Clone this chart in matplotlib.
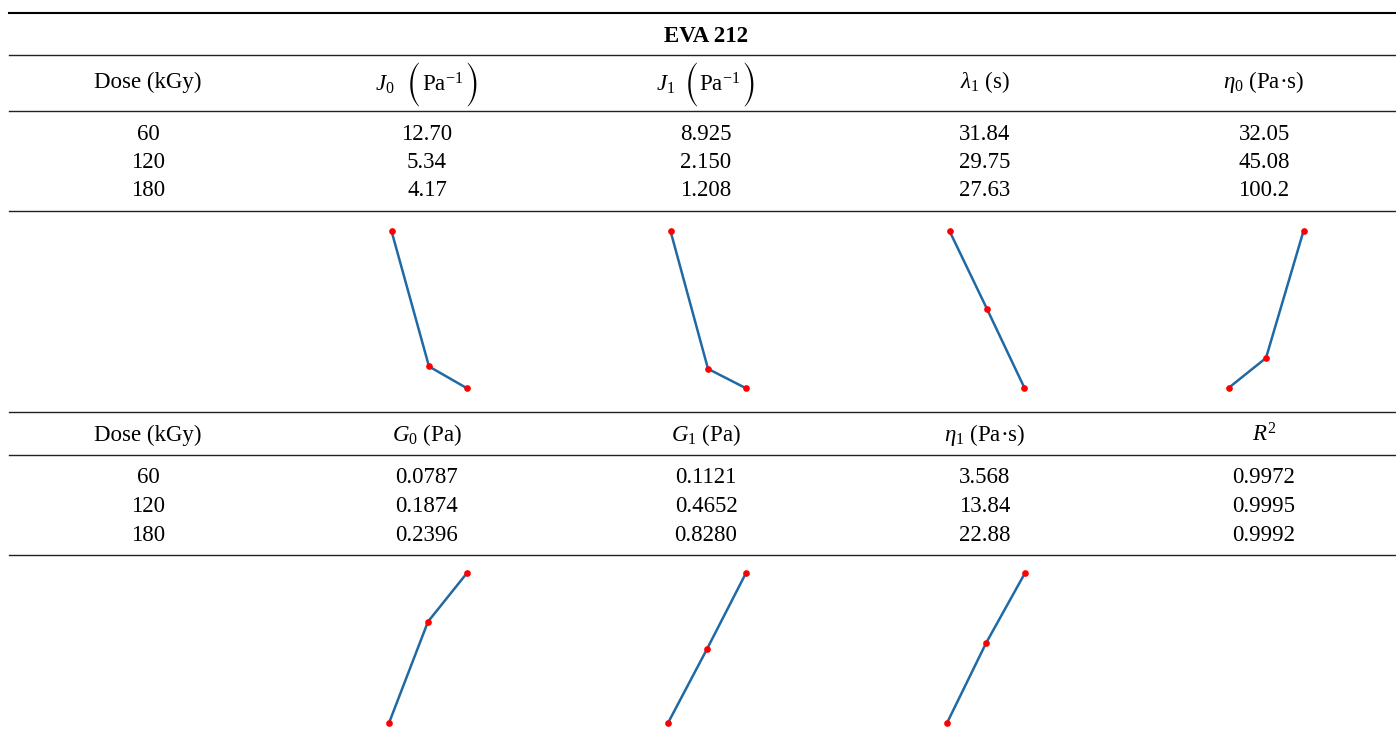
import matplotlib.pyplot as plt

plt.rcParams['font.family'] = ['Liberation Serif', 'DejaVu Serif']
plt.rcParams['mathtext.fontset'] = 'custom'
plt.rcParams['mathtext.rm'] = 'Liberation Serif'
plt.rcParams['mathtext.it'] = 'Liberation Serif:italic'
plt.rcParams['mathtext.bf'] = 'Liberation Serif:bold'

# TABLE DATA
title = 'EVA 212'
doses = [60, 120, 180]

# J headers are built from pieces: symbol, big "(", unit, big ")"
j_syms = [r'$J_0$', r'$J_1$']
j_unit = r'$\mathrm{Pa}^{-1}$'
head1_rest = [r'$\lambda_1$ (s)', r'$\eta_0$ (Pa·s)']
J0 = [12.70, 5.34, 4.17]
J1 = [8.925, 2.150, 1.208]
lam1 = [31.84, 29.75, 27.63]
eta0 = [32.05, 45.08, 100.2]

head2 = ['Dose (kGy)', r'$G_0$ (Pa)', r'$G_1$ (Pa)', r'$\eta_1$ (Pa·s)', r'$R^2$']
G0 = [0.0787, 0.1874, 0.2396]
G1 = [0.1121, 0.4652, 0.8280]
eta1 = [3.568, 13.84, 22.88]
R2 = [0.9972, 0.9995, 0.9992]

# LAYOUT (pixels)
W, H = 1396, 740
fs = 16.5
cols = [148 + 279 * i for i in range(5)]
x_left, x_right = 9, 1396

fig = plt.figure(figsize=(W / 100, H / 100), dpi=100)
ax = fig.add_axes([0, 0, 1, 1])
ax.set_xlim(0, W)
ax.set_ylim(H, 0)
ax.axis('off')
rend = fig.canvas.get_renderer()

# horizontal rules
ax.plot([x_left, x_right], [12.7, 12.7], color='black', lw=1.5)
for y in [55, 111, 211, 412, 455, 555]:
    ax.plot([x_left, x_right], [y, y], color='#222222', lw=1.0)

ax.text((x_left + x_right) / 2 + 4, 42, title, ha='center', va='baseline',
        fontsize=fs, fontweight='bold')


def width(t):
    return t.get_window_extent(rend).width


def j_header(cx, sym, gap, y=91):
    # lay the pieces out left to right, then shift so the group is centred
    parts = [ax.text(0, y, sym, ha='left', va='baseline', fontsize=fs),
             ax.text(0, 85, '(', ha='left', va='center', fontsize=17,
                     family='STIXSizeTwoSym'),
             ax.text(0, y, j_unit, ha='left', va='baseline', fontsize=fs),
             ax.text(0, 85, ')', ha='left', va='center', fontsize=17,
                     family='STIXSizeTwoSym')]
    gaps = [gap, 1, 1, 0]
    ws = [width(p) for p in parts]
    total = sum(ws) + sum(gaps[:-1])
    x = cx - total / 2
    for p, w, g in zip(parts, ws, gaps):
        p.set_x(x)
        x += w + g


def block(heads, columns, fmts, head_y, row_y):
    for cx, h in zip(cols, heads):
        if h is not None:
            ax.text(cx, head_y, h, ha='center', va='baseline', fontsize=fs)
    for ry, d in zip(row_y, doses):
        ax.text(cols[0], ry, str(d), ha='center', va='baseline', fontsize=fs)
    for cx, vals, f in zip(cols[1:], columns, fmts):
        for ry, v in zip(row_y, vals):
            ax.text(cx, ry, format(v, f), ha='center', va='baseline', fontsize=fs)


def spark(cx, y0, y1, vals, w=75):
    sa = fig.add_axes([(cx - w / 2) / W, 1 - y1 / H, w / W, (y1 - y0) / H])
    sa.plot(doses, vals, color='#1f6aa5', lw=1.8, marker='o', ms=3.8,
            mfc='red', mec='red', clip_on=False)
    sa.set_xlim(doses[0], doses[-1])
    sa.set_ylim(min(vals), max(vals))
    sa.axis('off')


block(['Dose (kGy)', None, None] + head1_rest, [J0, J1, lam1, eta0],
      ['.2f', '.3f', '.2f', '#.4g'], 88, [139.5, 168, 196.5])
j_header(cols[1], j_syms[0], 12)
j_header(cols[2], j_syms[1], 9)
block(head2, [G0, G1, eta1, R2], ['.4f', '.4f', '#.4g', '.4f'],
      441, [483, 512, 541])

for cx, vals in zip(cols[1:], [J0, J1, lam1, eta0]):
    spark(cx + 2, 231, 388, vals)
for cx, vals in zip(cols[1:4], [G0, G1, eta1]):
    spark(cx + 1, 573, 723, vals, w=78)

fig.savefig('out.png', dpi=100)
